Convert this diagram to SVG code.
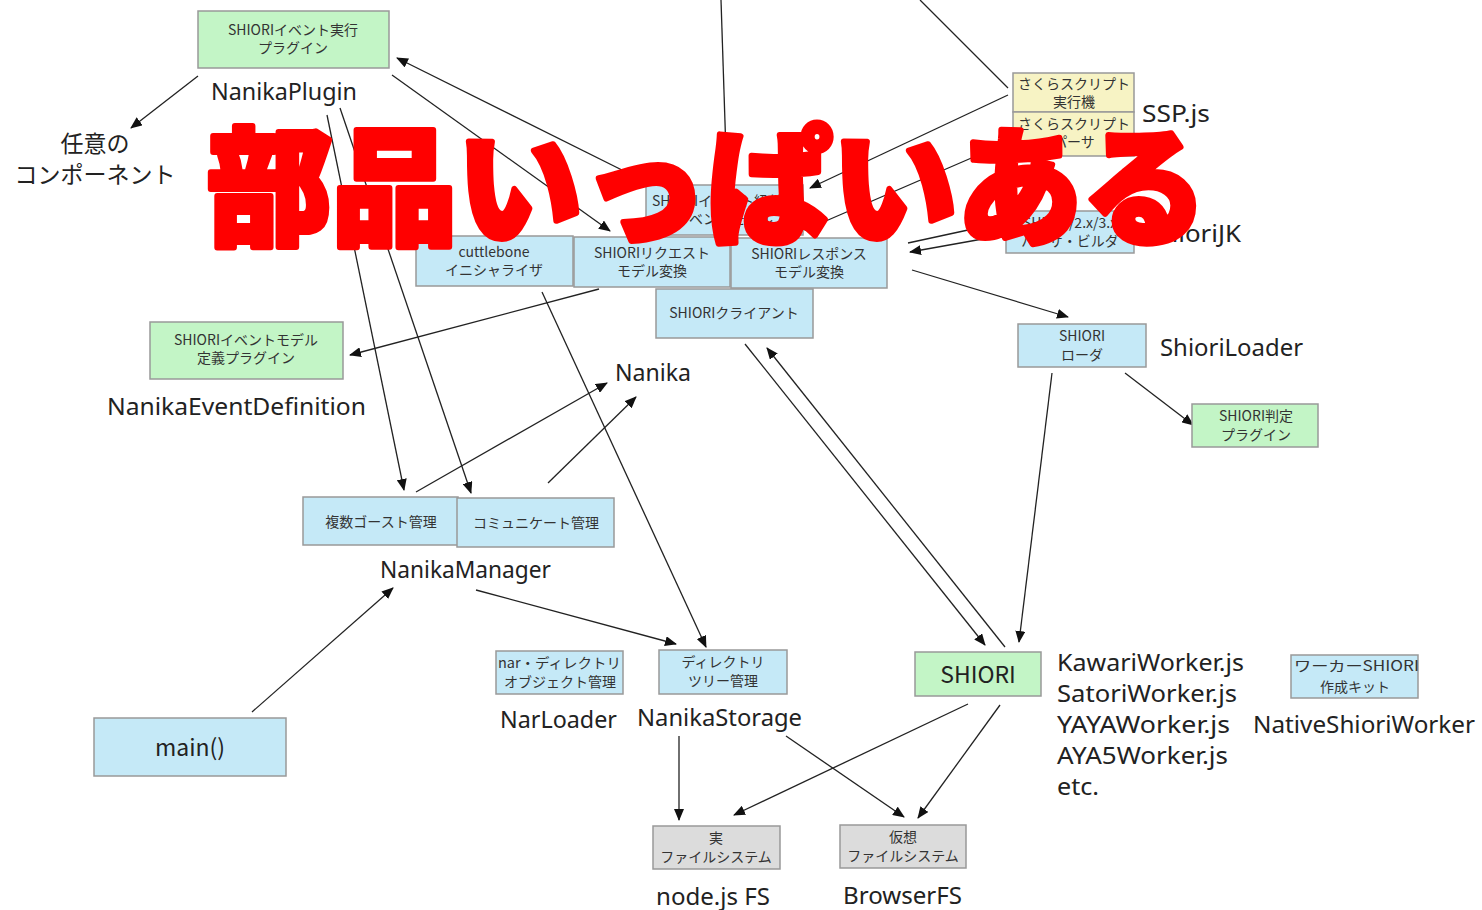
<svg xmlns="http://www.w3.org/2000/svg" width="1482" height="910" viewBox="0 0 1482 910">
<defs>
<marker id="ah" viewBox="0 0 12 10" refX="11" refY="5" markerWidth="12" markerHeight="10" markerUnits="userSpaceOnUse" orient="auto">
<path d="M0,0 L12,5 L0,10 z" fill="#111"/>
</marker>
<style>
.bx{stroke:#999;stroke-width:1.5}
.blue{fill:#c5e9f7}
.green{fill:#c3f5c6}
.gray{fill:#dcdcdc}
.yel{fill:#f7f3c4}
.t{font-family:"Noto Sans CJK JP","Noto Sans",sans-serif;font-size:14px;fill:#333;text-anchor:middle}
.lb{font-family:"Noto Sans","Noto Sans CJK JP",sans-serif;font-size:23px;fill:#222}
.lbj{font-family:"Noto Sans CJK JP",sans-serif;font-size:23px;fill:#222;text-anchor:middle}
.c line{stroke:#222;stroke-width:1.3}
.big{font-family:"Noto Sans CJK JP",sans-serif;font-weight:900;font-size:128px;fill:#ff0000;stroke:#ff0000;stroke-width:6;stroke-linejoin:round}
</style>
</defs>
<rect width="1482" height="910" fill="#fff"/>

<g id="connectors" class="c">
<line x1="198" y1="76" x2="131" y2="128" marker-end="url(#ah)"/>
<line x1="392" y1="75" x2="610" y2="231" marker-end="url(#ah)"/>
<line x1="646" y1="182" x2="397" y2="58" marker-end="url(#ah)"/>
<line x1="721" y1="0" x2="727" y2="184" marker-end="url(#ah)"/>
<line x1="920" y1="0" x2="1008" y2="88"/>
<line x1="1008" y1="95" x2="810" y2="188" marker-end="url(#ah)"/>
<line x1="1013" y1="140" x2="805" y2="230" marker-end="url(#ah)"/>
<line x1="908" y1="243" x2="1005" y2="222" marker-end="url(#ah)"/>
<line x1="1005" y1="235" x2="910" y2="252" marker-end="url(#ah)"/>
<line x1="912" y1="270" x2="1068" y2="317" marker-end="url(#ah)"/>
<line x1="327" y1="115" x2="404" y2="490" marker-end="url(#ah)"/>
<line x1="340" y1="108" x2="471" y2="493" marker-end="url(#ah)"/>
<line x1="599" y1="289" x2="350" y2="355" marker-end="url(#ah)"/>
<line x1="416" y1="492" x2="607" y2="383" marker-end="url(#ah)"/>
<line x1="548" y1="483" x2="636" y2="397" marker-end="url(#ah)"/>
<line x1="542" y1="292" x2="706" y2="647" marker-end="url(#ah)"/>
<line x1="476" y1="590" x2="676" y2="644" marker-end="url(#ah)"/>
<line x1="252" y1="712" x2="393" y2="588" marker-end="url(#ah)"/>
<line x1="745" y1="344" x2="985" y2="645" marker-end="url(#ah)"/>
<line x1="1005" y1="647" x2="767" y2="348" marker-end="url(#ah)"/>
<line x1="1052" y1="373" x2="1019" y2="642" marker-end="url(#ah)"/>
<line x1="1125" y1="373" x2="1193" y2="425" marker-end="url(#ah)"/>
<line x1="679" y1="736" x2="679" y2="820" marker-end="url(#ah)"/>
<line x1="786" y1="736" x2="904" y2="817" marker-end="url(#ah)"/>
<line x1="968" y1="704" x2="734" y2="815" marker-end="url(#ah)"/>
<line x1="1000" y1="705" x2="918" y2="818" marker-end="url(#ah)"/>
</g>

<g id="nanikaPlugin">
<rect class="bx green" x="198" y="11" width="191" height="57"/>
<text class="t" x="293" y="35">SHIORIイベント実行</text>
<text class="t" x="293" y="53">プラグイン</text>
<text class="lb" x="211" y="100" textLength="146" lengthAdjust="spacingAndGlyphs">NanikaPlugin</text>
</g>

<g id="anyComponent">
<text class="lbj" x="95" y="152">任意の</text>
<text class="lbj" x="95" y="183">コンポーネント</text>
</g>

<g id="sspjs">
<rect class="bx yel" x="1013" y="73" width="121" height="39"/>
<rect class="bx yel" x="1013" y="112" width="121" height="44"/>
<text class="t" x="1074" y="89">さくらスクリプト</text>
<text class="t" x="1074" y="107">実行機</text>
<text class="t" x="1074" y="129">さくらスクリプト</text>
<text class="t" x="1074" y="147">パーサ</text>
<text class="lb" x="1142" y="122" textLength="68" lengthAdjust="spacingAndGlyphs">SSP.js</text>
</g>

<g id="eventBinder">
<rect class="bx blue" x="646" y="185" width="157" height="50"/>
<text class="t" x="724" y="206">SHIORIイベント紐付け</text>
<text class="t" x="724" y="224">イベントモデル</text>
</g>

<g id="shioriJK">
<rect class="bx blue" x="1006" y="211" width="128" height="42"/>
<text class="t" x="1070" y="228">SHIORI/2.x/3.x</text>
<text class="t" x="1070" y="246">パーサ・ビルダ</text>
<text class="lb" x="1148" y="242" textLength="93" lengthAdjust="spacingAndGlyphs">ShioriJK</text>
</g>

<g id="cuttlebone">
<rect class="bx blue" x="416" y="236" width="157" height="50"/>
<text class="t" x="494" y="257">cuttlebone</text>
<text class="t" x="494" y="275">イニシャライザ</text>
</g>

<g id="requestModel">
<rect class="bx blue" x="574" y="237" width="156" height="50"/>
<text class="t" x="652" y="258">SHIORIリクエスト</text>
<text class="t" x="652" y="276">モデル変換</text>
</g>

<g id="responseModel">
<rect class="bx blue" x="731" y="238" width="156" height="50"/>
<text class="t" x="809" y="259">SHIORIレスポンス</text>
<text class="t" x="809" y="277">モデル変換</text>
</g>

<g id="shioriClient">
<rect class="bx blue" x="656" y="289" width="157" height="49"/>
<text class="t" x="734" y="318">SHIORIクライアント</text>
</g>

<g id="nanika">
<text class="lb" x="615" y="381" textLength="76" lengthAdjust="spacingAndGlyphs">Nanika</text>
</g>

<g id="shioriLoader">
<rect class="bx blue" x="1018" y="324" width="128" height="43"/>
<text class="t" x="1082" y="341">SHIORI</text>
<text class="t" x="1082" y="360">ローダ</text>
<text class="lb" x="1160" y="356" textLength="143" lengthAdjust="spacingAndGlyphs">ShioriLoader</text>
</g>

<g id="shioriJudge">
<rect class="bx green" x="1192" y="404" width="126" height="43"/>
<text class="t" x="1256" y="421">SHIORI判定</text>
<text class="t" x="1256" y="440">プラグイン</text>
</g>

<g id="nanikaEventDefinition">
<rect class="bx green" x="150" y="322" width="193" height="57"/>
<text class="t" x="246" y="345">SHIORIイベントモデル</text>
<text class="t" x="246" y="363">定義プラグイン</text>
<text class="lb" x="107" y="415" textLength="259" lengthAdjust="spacingAndGlyphs">NanikaEventDefinition</text>
</g>

<g id="nanikaManager">
<rect class="bx blue" x="303" y="497" width="155" height="48"/>
<text class="t" x="381" y="527">複数ゴースト管理</text>
<rect class="bx blue" x="457" y="498" width="157" height="49"/>
<text class="t" x="536" y="528">コミュニケート管理</text>
<text class="lb" x="380" y="578" textLength="171" lengthAdjust="spacingAndGlyphs">NanikaManager</text>
</g>

<g id="narLoader">
<rect class="bx blue" x="496" y="651" width="127" height="43"/>
<text class="t" x="498" y="668" style="text-anchor:start" textLength="123" lengthAdjust="spacingAndGlyphs">nar・ディレクトリ</text>
<text class="t" x="560" y="687">オブジェクト管理</text>
<text class="lb" x="500" y="728" textLength="117" lengthAdjust="spacingAndGlyphs">NarLoader</text>
</g>

<g id="nanikaStorage">
<rect class="bx blue" x="659" y="650" width="128" height="44"/>
<text class="t" x="723" y="667">ディレクトリ</text>
<text class="t" x="723" y="686">ツリー管理</text>
<text class="lb" x="637" y="726" textLength="165" lengthAdjust="spacingAndGlyphs">NanikaStorage</text>
</g>

<g id="shiori">
<rect class="bx green" x="915" y="652" width="126" height="44"/>
<text class="lbj" x="978" y="683">SHIORI</text>
</g>

<g id="workers">
<text class="lb" x="1057" y="671" textLength="187" lengthAdjust="spacingAndGlyphs">KawariWorker.js</text>
<text class="lb" x="1057" y="702" textLength="180" lengthAdjust="spacingAndGlyphs">SatoriWorker.js</text>
<text class="lb" x="1057" y="733" textLength="173" lengthAdjust="spacingAndGlyphs">YAYAWorker.js</text>
<text class="lb" x="1057" y="764" textLength="171" lengthAdjust="spacingAndGlyphs">AYA5Worker.js</text>
<text class="lb" x="1057" y="795" textLength="42" lengthAdjust="spacingAndGlyphs">etc.</text>
</g>

<g id="nativeShioriWorker">
<rect class="bx blue" x="1291" y="655" width="127" height="43"/>
<text class="t" x="1294" y="671" style="text-anchor:start" textLength="125" lengthAdjust="spacingAndGlyphs">ワーカーSHIORI</text>
<text class="t" x="1355" y="692">作成キット</text>
<text class="lb" x="1253" y="733" textLength="222" lengthAdjust="spacingAndGlyphs">NativeShioriWorker</text>
</g>

<g id="realFS">
<rect class="bx gray" x="653" y="826" width="127" height="43"/>
<text class="t" x="716" y="843">実</text>
<text class="t" x="716" y="862">ファイルシステム</text>
<text class="lb" x="656" y="905" textLength="114" lengthAdjust="spacingAndGlyphs">node.js FS</text>
</g>

<g id="virtualFS">
<rect class="bx gray" x="840" y="825" width="126" height="43"/>
<text class="t" x="903" y="842">仮想</text>
<text class="t" x="903" y="861">ファイルシステム</text>
<text class="lb" x="843" y="904" textLength="119" lengthAdjust="spacingAndGlyphs">BrowserFS</text>
</g>

<g id="main">
<rect class="bx blue" x="94" y="718" width="192" height="58"/>
<text class="lbj" x="190" y="756">main()</text>
</g>

<g id="headline">
<text class="big" x="207" y="235" textLength="1000" lengthAdjust="spacingAndGlyphs">部品いっぱいある</text>
</g>
</svg>
